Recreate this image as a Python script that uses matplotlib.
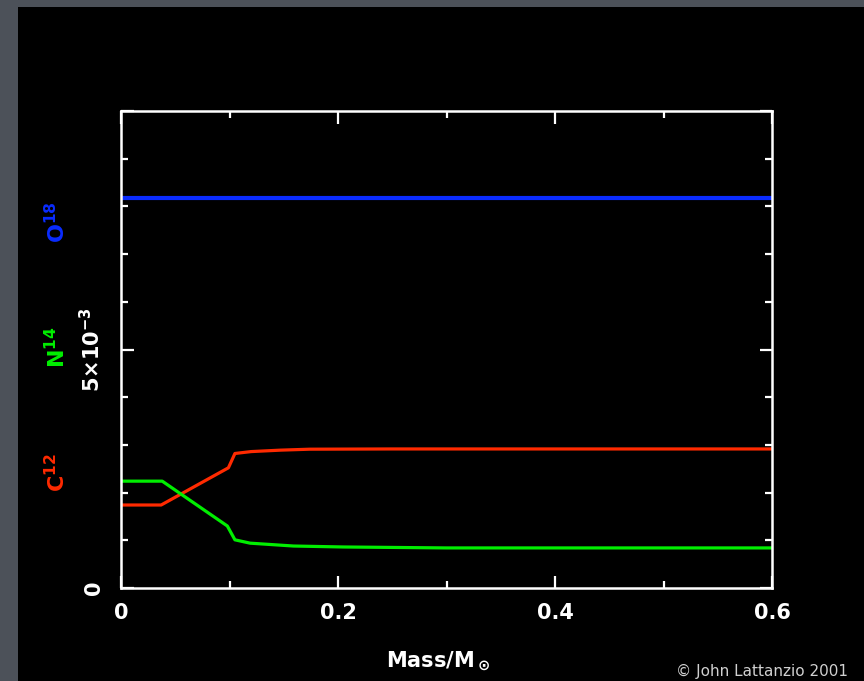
import numpy as np
import matplotlib.pyplot as plt
from matplotlib.patches import Rectangle
from matplotlib.ticker import MultipleLocator, FixedLocator, FixedFormatter

plt.rcParams['font.family'] = ['DejaVu Sans']
plt.rcParams['font.weight'] = 'bold'
plt.rcParams['axes.labelweight'] = 'bold'
plt.rcParams['mathtext.fontset'] = 'custom'
plt.rcParams['mathtext.rm'] = 'DejaVu Sans:bold'
plt.rcParams['mathtext.it'] = 'DejaVu Sans:bold'
plt.rcParams['mathtext.bf'] = 'DejaVu Sans:bold'
plt.rcParams['mathtext.default'] = 'rm'

# abundance profiles against interior mass
c12_mass = [0.0, 0.037, 0.099, 0.105, 0.12, 0.147, 0.174, 0.25, 0.6]
c12 = [1.74e-3, 1.74e-3, 2.52e-3, 2.82e-3, 2.86e-3, 2.89e-3, 2.91e-3, 2.915e-3, 2.915e-3]

n14_mass = [0.0, 0.038, 0.098, 0.105, 0.119, 0.159, 0.205, 0.3, 0.6]
n14 = [2.24e-3, 2.24e-3, 1.30e-3, 1.01e-3, 0.94e-3, 0.88e-3, 0.86e-3, 0.84e-3, 0.84e-3]

o18_mass = [0.0, 0.6]
o18 = [8.18e-3, 8.18e-3]

xticks = [0, 0.2, 0.4, 0.6]
xtick_labels = ['0', '0.2', '0.4', '0.6']
yticks = [0, 5e-3, 10e-3]
ytick_labels = ['0', r'5$\times$10$^{-3}$', '']

fig = plt.figure(figsize=(8.64, 6.81), dpi=100, facecolor='#4c5159')
# black slide panel behind the plot
fig.patches.append(Rectangle((18 / 864, 0), 1, (681 - 7) / 681, transform=fig.transFigure,
                             facecolor='black', edgecolor='none', zorder=-1))

ax = fig.add_axes([121 / 864, 93 / 681, 651 / 864, 477 / 681])
ax.set_zorder(2)
ax.set_facecolor('black')

ax.plot(c12_mass, c12, color='#ff2a00', lw=2.3, solid_joinstyle='round')
ax.plot(n14_mass, n14, color='#00ee00', lw=2.3, solid_joinstyle='round')
ax.plot(o18_mass, o18, color='#0a2cff', lw=3.0)

ax.set_xlim(0, 0.6)
ax.set_ylim(0, 0.01)

ax.xaxis.set_major_locator(FixedLocator(xticks))
ax.xaxis.set_major_formatter(FixedFormatter(xtick_labels))
ax.xaxis.set_minor_locator(MultipleLocator(0.1))
ax.yaxis.set_major_locator(FixedLocator(yticks))
ax.yaxis.set_major_formatter(FixedFormatter(ytick_labels))
ax.yaxis.set_minor_locator(MultipleLocator(1e-3))

for s in ax.spines.values():
    s.set_color('white')
    s.set_linewidth(1.8)

ax.tick_params(which='both', direction='in', top=True, right=True, color='white', width=1.6)
ax.tick_params(which='major', length=9)
ax.tick_params(which='minor', length=5)
ax.tick_params(axis='x', labelcolor='white', labelsize=15, pad=11)
ax.tick_params(axis='y', labelcolor='white', labelsize=15, pad=12, labelrotation=90)
for lab in ax.get_yticklabels():
    lab.set_verticalalignment('center')

ax.set_xlabel(r'Mass/M$_\odot$', color='white', fontsize=15)
ax.xaxis.set_label_coords(0.487, -0.13)

# species names along the left side
fig.text(57 / 864, 1 - 473 / 681, r'C$^{12}$', color='#ff2a00', fontsize=16,
         rotation=90, ha='center', va='center')
fig.text(57 / 864, 1 - 347 / 681, r'N$^{14}$', color='#00ee00', fontsize=16,
         rotation=90, ha='center', va='center')
fig.text(57 / 864, 1 - 222 / 681, r'O$^{18}$', color='#0a2cff', fontsize=16,
         rotation=90, ha='center', va='center')

fig.text(676 / 864, 1 - 671 / 681, '\u00a9 John Lattanzio 2001', color='#d0d0d0',
         fontsize=11, fontweight='normal', ha='left', va='center')

fig.savefig('out.png', dpi=100, facecolor=fig.get_facecolor())
